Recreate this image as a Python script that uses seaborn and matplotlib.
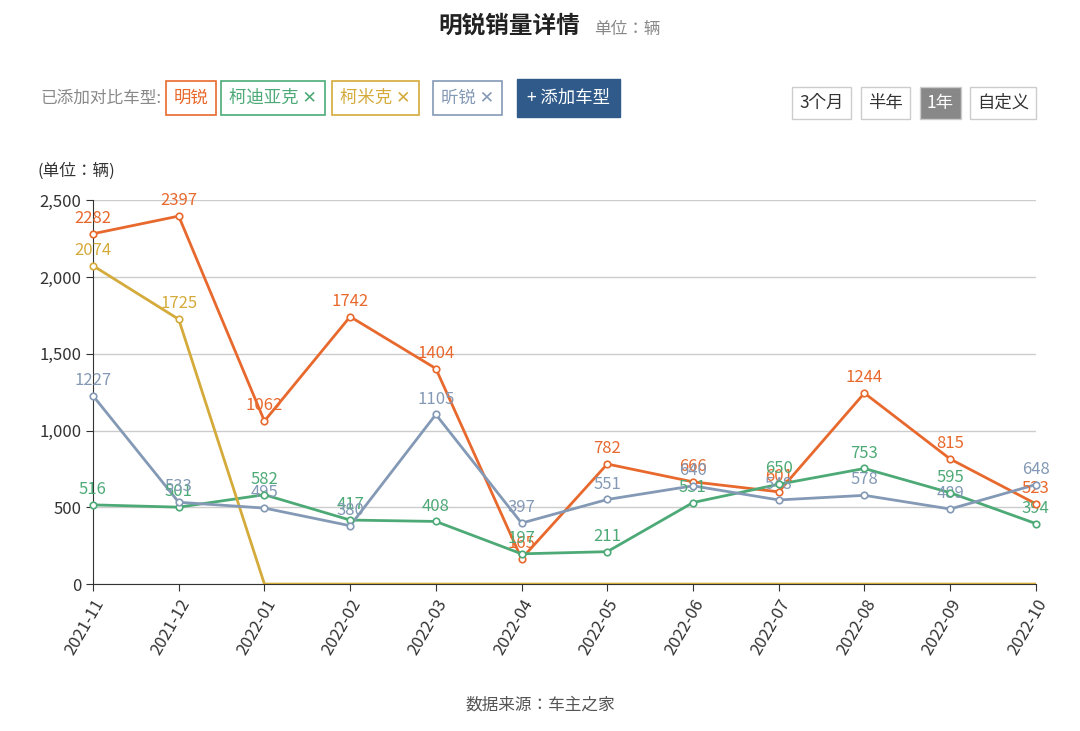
import matplotlib
matplotlib.use("Agg")
import matplotlib.pyplot as plt
from matplotlib import font_manager as fm
import seaborn as sns
import pandas as pd

names = sorted({f.name for f in fm.fontManager.ttflist})
pref = [n for n in ["Noto Sans CJK SC", "Noto Sans CJK JP", "Noto Sans CJK TC", "Noto Sans CJK KR"] if n in names]
if not pref:
    pref = [n for n in names if "CJK" in n and "Sans" in n][:1]
plt.rcParams["font.family"] = pref[:1] + ["DejaVu Sans"]

months = ["2021-11","2021-12","2022-01","2022-02","2022-03","2022-04","2022-05","2022-06","2022-07","2022-08","2022-09","2022-10"]
mingrui = [2282, 2397, 1062, 1742, 1404, 165, 782, 666, 601, 1244, 815, 523]
kodiaq = [516, 501, 582, 417, 408, 197, 211, 531, 650, 753, 595, 394]
kamiq = [2074, 1725, 0, 0, 0, 0, 0, 0, 0, 0, 0, 0]
xinrui = [1227, 533, 495, 380, 1105, 397, 551, 640, 548, 578, 489, 648]
series_names = ["明锐", "柯迪亚克", "柯米克", "昕锐"]
colors = ["#E8692D", "#4DAA77", "#D4AB3B", "#8499B5"]
all_vals = [mingrui, kodiaq, kamiq, xinrui]

rows = []
for name, vals in zip(series_names, all_vals):
    for i, (m, v) in enumerate(zip(months, vals)):
        rows.append({"idx": i, "month": m, "value": v, "series": name})
df = pd.DataFrame(rows)

fig = plt.figure(figsize=(10.8, 7.31), dpi=100)
ax = fig.add_axes([0.0861, 0.201, 0.873, 0.525])
sns.lineplot(data=df, x="idx", y="value", hue="series", hue_order=series_names,
             palette=colors, linewidth=2, legend=False, ax=ax, zorder=3)
for name, col, vals in zip(series_names, colors, all_vals):
    pts = [(i, v) for i, v in enumerate(vals) if not (name == "柯米克" and v == 0)]
    ax.scatter([p[0] for p in pts], [p[1] for p in pts], s=22, facecolor="white", edgecolor=col,
               linewidth=1.2, zorder=5, clip_on=False)
    for i, v in pts:
        ax.text(i, v + 45, str(v), color=col, ha="center", va="bottom", fontsize=12, zorder=4)

ax.set_xlim(0, len(months) - 1)
ax.set_ylim(0, 2500)
ax.set_yticks([0, 500, 1000, 1500, 2000, 2500])
ax.set_yticklabels(["0", "500", "1,000", "1,500", "2,000", "2,500"], fontsize=12, color="#333333")
ax.set_xticks(range(len(months)))
ax.set_xticklabels(months, rotation=60, ha="right", rotation_mode="anchor", fontsize=12, color="#333333")
ax.set_xlabel("")
ax.set_ylabel("")
ax.grid(axis="y", color="#cccccc", linewidth=1)
ax.set_axisbelow(True)
for s in ["top", "right"]:
    ax.spines[s].set_visible(False)
ax.spines["left"].set_color("#333333")
ax.spines["bottom"].set_color("#333333")
ax.tick_params(axis="both", length=5, color="#333333")

fig.text(0.035, 0.76, "(单位：辆)", fontsize=12, color="#333333")
fig.text(0.537, 0.965, "明锐销量详情", fontsize=17, fontweight="bold", ha="right", va="center", color="#222222")
fig.text(0.55, 0.96, "单位：辆", fontsize=12, ha="left", va="center", color="#888888")

fig.text(0.037, 0.866, "已添加对比车型:", fontsize=12, color="#888888", va="center")
btns = [(0.161, "明锐", "#E8692D", ""), (0.212, "柯迪亚克", "#4DAA77", " ✕"),
        (0.315, "柯米克", "#D4AB3B", " ✕"), (0.408, "昕锐", "#8499B5", " ✕")]
for x, t, c, suf in btns:
    fig.text(x, 0.866, t + suf, fontsize=12.5, color=c, va="center",
             bbox=dict(boxstyle="square,pad=0.45", fc="white", ec=c, lw=1.2))
fig.text(0.488, 0.866, "+ 添加车型", fontsize=12.5, color="white", va="center",
         bbox=dict(boxstyle="square,pad=0.55", fc="#2F5A8A", ec="#2F5A8A"))
tabs = [(0.740, "3个月", False), (0.804, "半年", False), (0.858, "1年", True), (0.905, "自定义", False)]
for x, t, act in tabs:
    fig.text(x, 0.859, t, fontsize=12.5, color="white" if act else "#333333", va="center",
             bbox=dict(boxstyle="square,pad=0.4", fc="#888888" if act else "white", ec="#cccccc"))

fig.text(0.5, 0.036, "数据来源：车主之家", fontsize=12, color="#555555", ha="center", va="center")
fig.savefig("out.png", dpi=100)
